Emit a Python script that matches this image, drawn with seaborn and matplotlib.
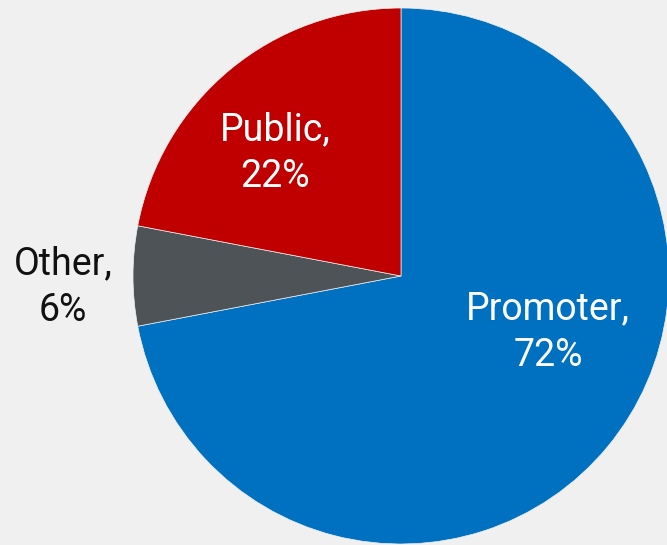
import matplotlib
matplotlib.use("Agg")
import matplotlib.pyplot as plt
import seaborn as sns

# Shareholding pattern
categories = ["Promoter", "Other", "Public"]
shares = [72, 6, 22]
colors = ["#0070C0", "#4E5358", "#C00000"]

sns.set_style("white")
plt.rcParams["font.family"] = ["Roboto", "DejaVu Sans"]

bg = "#F0F0F0"
fig = plt.figure(figsize=(6.67, 5.45), dpi=100, facecolor=bg)
ax = fig.add_axes([0, 0, 1, 1])
ax.set_facecolor(bg)

wedges, _ = ax.pie(
    shares,
    colors=colors,
    startangle=90,
    counterclock=False,
    radius=1.0,
    wedgeprops=dict(edgecolor=bg, linewidth=0.5),
)

# Pie centre sits at (401, 276) px with a 268 px radius
r_px = 268.0
ax.set_xlim(-401 / r_px, (667 - 401) / r_px)
ax.set_ylim(-(545 - 276) / r_px, 276 / r_px)
ax.set_aspect("equal", adjustable="datalim")
ax.axis("off")

label_pos = {
    "Promoter": ((548 - 401) / r_px, (276 - 332) / r_px, "white"),
    "Other": ((63 - 401) / r_px, (276 - 287) / r_px, "#111111"),
    "Public": ((275 - 401) / r_px, (276 - 153) / r_px, "white"),
}
for cat, val in zip(categories, shares):
    x, y, c = label_pos[cat]
    ax.text(x, y, f"{cat},\n{val}%", ha="center", va="center",
            fontsize=27, color=c, linespacing=1.32)

fig.savefig("out.png", dpi=100, facecolor=bg)
